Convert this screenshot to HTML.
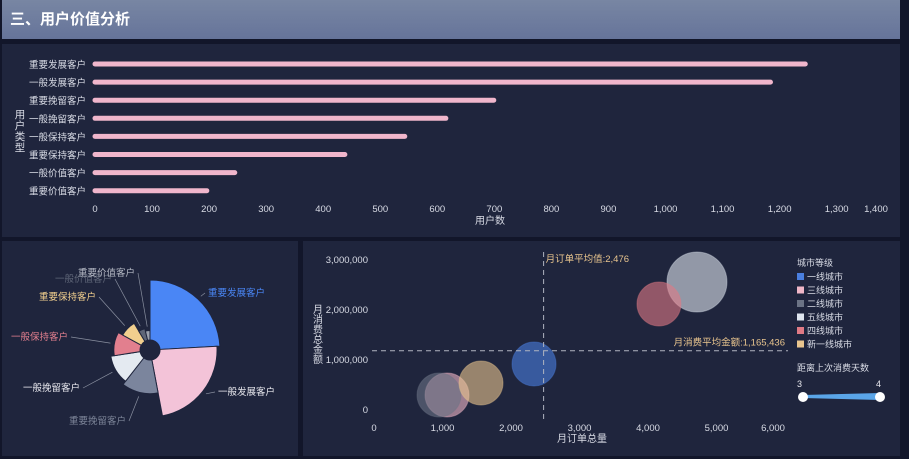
<!DOCTYPE html>
<html><head><meta charset="utf-8">
<style>
html,body{margin:0;padding:0;width:909px;height:459px;overflow:hidden;background:#12162a;font-family:"Liberation Sans","Noto Sans CJK SC",sans-serif;}
#hdr{position:absolute;left:2px;top:0;width:898px;height:39px;background:linear-gradient(180deg,#7886a3,#66749a);color:#fff;font-weight:bold;font-size:15px;line-height:39px;padding-left:8px;box-sizing:border-box;}
.panel{position:absolute;background:#1f253d;}
svg text{font-family:"Liberation Sans","Noto Sans CJK SC",sans-serif;}
</style></head><body>
<div id="hdr">三、用户价值分析</div>
<div class="panel" style="left:2px;top:44px;width:898px;height:193px"></div>
<div class="panel" style="left:2px;top:241px;width:296px;height:215px"></div>
<div class="panel" style="left:303px;top:241px;width:597px;height:215px"></div>
<svg id="s" width="909" height="459" style="position:absolute;left:0;top:0"></svg>
<script>
const cats=["重要发展客户","一般发展客户","重要挽留客户","一般挽留客户","一般保持客户","重要保持客户","一般价值客户","重要价值客户"];
const counts=[1245,1184,699,615,543,438,245,196];
const xTicks=[0,100,200,300,400,500,600,700,800,900,1000,1100,1200,1300,1400];
const roseColors=["#4a86f5","#f3c3d8","#7b859d","#e4eaf1","#e27f8e","#f1cf8e","#5e6577","#9aa0ad"];
const roseLabelColors=["#4a86f5","#e8e8ee","#7c8498","#e8e8ee","#e27f8e","#f1cf8e","#5e6577","#b5b9c4"];
const cities=["一线城市","三线城市","二线城市","五线城市","四线城市","新一线城市"];
const cityColors=["#4a7fe0","#f0b7c8","#6b7385","#dfe6ef","#e07a85","#e9c58e"];
const orders=[2336,1066,949,4715,4160,1562];
const spend=[900000,280000,280000,2540000,2100000,520000];
const bubbleSize=[22,22,22,30,22,22];
const sxTicks=[0,1000,2000,3000,4000,5000,6000];
const syTicks=[0,1000000,2000000,3000000];
const avgOrders=2476, avgSpend=1165436;

const S=document.getElementById('s');const NS="http://www.w3.org/2000/svg";
function el(t,a,txt){const e=document.createElementNS(NS,t);for(const k in a)e.setAttribute(k,a[k]);if(txt!==undefined)e.textContent=txt;S.appendChild(e);return e;}
const fmt=v=>v.toLocaleString('en-US');
// bar chart
const bx=v=>95+v*0.5705, by=i=>64+i*18.1;
cats.forEach((c,i)=>{
 let t=el('text',{x:86,y:by(i)+4,'text-anchor':'end','font-size':9.5,fill:'#d8dbe5'},c);
 
 let b=el('line',{x1:bx(0),y1:by(i),x2:bx(counts[i]),y2:by(i),stroke:'#f0b6cc','stroke-width':5,'stroke-linecap':'round'});
 
});
xTicks.forEach(v=>{let x=Math.min(bx(v),876);let t=el('text',{x:x,y:212,'text-anchor':'middle','font-size':9.5,fill:'#d8dbe5'},fmt(v));
 });
let xt=el('text',{x:490,y:224,'text-anchor':'middle','font-size':10,fill:'#d8dbe5'},'用户数');

['用','户','类','型'].forEach((c,i)=>{let t=el('text',{x:20,y:118+i*11,'text-anchor':'middle','font-size':10.5,fill:'#d8dbe5'},c);
 });
// rose
const cx=150,cy=350,r0=10,rmax=70;const tot=counts.reduce((a,b)=>a+b,0);const mx=Math.max(...counts);
let ang=-Math.PI/2;
const labelPos=[[208,296,'start'],[218,395,'start'],[126,424,'end'],[80,391,'end'],[68,340,'end'],[96,300,'end'],[112,282,'end'],[135,276,'end']];
cats.forEach((c,i)=>{
 const a0=ang,a1=ang+counts[i]/tot*2*Math.PI;ang=a1;const r=r0+counts[i]/mx*(rmax-r0);
 const p=(rr,a)=>[cx+rr*Math.cos(a),cy+rr*Math.sin(a)];
 const[A,B,C,D]=[p(r0,a0),p(r,a0),p(r,a1),p(r0,a1)];const lg=(a1-a0)>Math.PI?1:0;
 let s=el('path',{d:`M${A}L${B}A${r},${r} 0 ${lg} 1 ${C}L${D}A${r0},${r0} 0 ${lg} 0 ${A}Z`,fill:roseColors[i],stroke:'#1f253d','stroke-width':1});
 
 const am=(a0+a1)/2;const E=p(r+4,am);const L=labelPos[i];
 const lx=L[2]=='start'?L[0]-3:L[0]+3;
 el('polyline',{points:`${E} ${lx},${L[1]-3}`,fill:'none',stroke:'#8a90a0','stroke-width':0.7});
 let t=el('text',{x:L[0],y:L[1],'text-anchor':L[2],'font-size':9.5,fill:roseLabelColors[i]},c);
 
});
// scatter
const sx=v=>374+v*0.0685, sy=v=>409-v*0.00005;
syTicks.forEach(v=>{let t=el('text',{x:368,y:sy(v)+4,'text-anchor':'end','font-size':9.5,fill:'#d8dbe5'},fmt(v));});
sxTicks.forEach(v=>{let x=Math.min(sx(v),773);let t=el('text',{x:x,y:431,'text-anchor':'middle','font-size':9.5,fill:'#d8dbe5'},fmt(v));});
let t1=el('text',{x:582,y:442,'text-anchor':'middle','font-size':10,fill:'#d8dbe5'},'月订单总量');
['月','消','费','总','金','额'].forEach((c,i)=>{let t=el('text',{x:318,y:313+i*10,'text-anchor':'middle','font-size':10,fill:'#d8dbe5'},c);});
orders.forEach((o,i)=>{let c=el('circle',{cx:sx(o),cy:sy(spend[i]),r:bubbleSize[i],fill:cityColors[i],'fill-opacity':0.6,stroke:cityColors[i],'stroke-opacity':0.4});
 });
el('line',{x1:sx(avgOrders),y1:252,x2:sx(avgOrders),y2:419,stroke:'#b0b4c0','stroke-dasharray':'5,4','stroke-width':1});
el('line',{x1:372,y1:sy(avgSpend),x2:788,y2:sy(avgSpend),stroke:'#b0b4c0','stroke-dasharray':'5,4','stroke-width':1});
let m1=el('text',{x:sx(avgOrders)+2,y:262,'font-size':9.5,fill:'#e9c58e'},'月订单平均值:'+fmt(avgOrders));
let m2=el('text',{x:785,y:sy(avgSpend)-5,'text-anchor':'end','font-size':9.5,fill:'#e9c58e'},'月消费平均金额:'+fmt(avgSpend));
let lt=el('text',{x:797,y:266,'font-size':9,fill:'#d8dbe5'},'城市等级');
cities.forEach((c,i)=>{const y=277+i*13.5;el('rect',{x:797,y:y-4,width:7,height:7,fill:cityColors[i]});
 let t=el('text',{x:807,y:y+3,'font-size':9,fill:'#d8dbe5'},c);});
let vt=el('text',{x:797,y:371,'font-size':9,fill:'#d8dbe5'},'距离上次消费天数');
el('text',{x:797,y:387,'font-size':9,fill:'#e8e8ee'},'3');el('text',{x:881,y:387,'font-size':9,fill:'#e8e8ee','text-anchor':'end'},'4');
el('polygon',{points:'803,395 880,393 880,400 803,398',fill:'#5aa5e8'});
let h1=el('circle',{cx:803,cy:397,r:5,fill:'#fff'});
let h2=el('circle',{cx:880,cy:397,r:5,fill:'#fff'});
</script>
</body></html>
